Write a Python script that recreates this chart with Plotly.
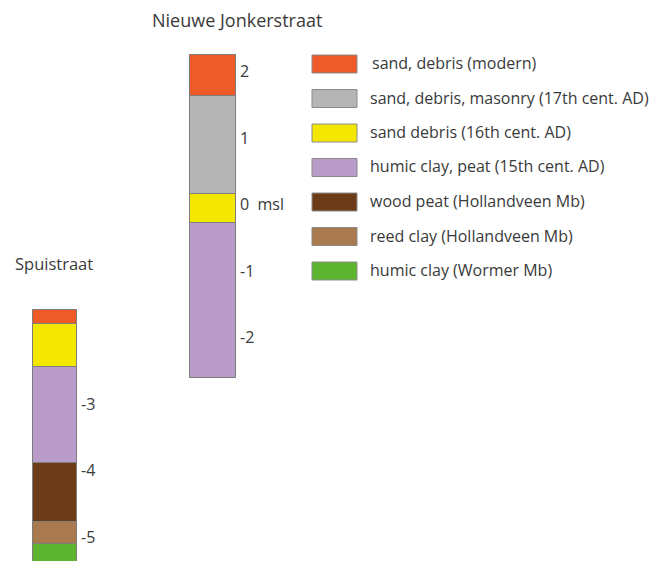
import plotly.graph_objects as go

# ---- data (metres relative to msl) ----
layer_names = [
    "sand, debris (modern)",
    "sand, debris, masonry (17th cent. AD)",
    "sand debris (16th cent. AD)",
    "humic clay, peat (15th cent. AD)",
    "wood peat (Hollandveen Mb)",
    "reed clay (Hollandveen Mb)",
    "humic clay (Wormer Mb)",
]
layer_colors = ["#EE5A28", "#B5B5B5", "#F3E700", "#B99CC9", "#6B3C17", "#A87A4E", "#5DB52F"]

# Nieuwe Jonkerstraat: layer index, top, bottom
nj_layers = [0, 1, 2, 3]
nj_top = [2.24, 1.62, 0.15, -0.29]
nj_bottom = [1.62, 0.15, -0.29, -2.62]
nj_ticks = [2, 1, 0, -1, -2]
nj_tick_text = ["2", "1", "0  msl", "-1", "-2"]

# Spuistraat
sp_layers = [0, 2, 3, 4, 5, 6]
sp_top = [-1.59, -1.81, -2.45, -3.89, -4.78, -5.11]
sp_bottom = [-1.81, -2.45, -3.89, -4.78, -5.11, -5.60]
sp_ticks = [-3, -4, -5]
sp_tick_text = ["-3", "-4", "-5"]

# ---- layout constants (pixel-like x units; page body has an 8px margin) ----
W, H = 664, 561
OFF = 8
Y_RANGE = [(204 - OFF - H) / 66.5, (204 - OFF) / 66.5]
NJ_X, NJ_W = 213 - OFF, 46
SP_X, SP_W = 55 - OFF, 44
TXT = "#3a3a3a"
FONT = "Open Sans"
FS = 16

fig = go.Figure()

def add_column(xc, width, layers, tops, bottoms):
    for li, t, b in zip(layers, tops, bottoms):
        fig.add_trace(go.Bar(
            x=[xc], y=[t - b], base=[b], width=[width],
            marker=dict(color=layer_colors[li], line=dict(color="#7d7d7d", width=1)),
            showlegend=False, hoverinfo="skip",
        ))

add_column(NJ_X, NJ_W, nj_layers, nj_top, nj_bottom)
add_column(SP_X, SP_W, sp_layers, sp_top, sp_bottom)

annotations = []
for v, t in zip(nj_ticks, nj_tick_text):
    annotations.append(dict(x=NJ_X + NJ_W / 2 + 2, y=v, xref="x", yref="y", text=t,
                            showarrow=False, xanchor="left", yanchor="middle",
                            font=dict(family=FONT, size=FS, color=TXT)))
for v, t in zip(sp_ticks, sp_tick_text):
    annotations.append(dict(x=SP_X + SP_W / 2 + 2, y=v, xref="x", yref="y", text=t,
                            showarrow=False, xanchor="left", yanchor="middle",
                            font=dict(family=FONT, size=FS, color=TXT)))

annotations.append(dict(x=150 - OFF, y=1 - (20 - OFF) / H, xref="x", yref="paper",
                        text="Nieuwe Jonkerstraat", showarrow=False, xanchor="left",
                        yanchor="middle", font=dict(family=FONT, size=18, color=TXT)))
annotations.append(dict(x=13 - OFF, y=1 - (263 - OFF) / H, xref="x", yref="paper",
                        text="Spuistraat", showarrow=False, xanchor="left",
                        yanchor="middle", font=dict(family=FONT, size=16.5, color=TXT)))

shapes = []
for i, (name, col) in enumerate(zip(layer_names, layer_colors)):
    y0 = 55 - OFF + i * 34.5
    shapes.append(dict(type="rect", xref="x", yref="paper",
                       x0=312 - OFF, x1=357 - OFF, y0=1 - (y0 + 18) / H, y1=1 - y0 / H,
                       fillcolor=col, line=dict(color="#8a8a8a", width=1)))
    annotations.append(dict(x=(370 if i else 372) - OFF - 2, y=1 - (y0 + 8) / H,
                            xref="x", yref="paper", text=name, showarrow=False,
                            xanchor="left", yanchor="middle",
                            font=dict(family=FONT, size=FS, color=TXT)))

fig.update_layout(
    width=W, height=H, margin=dict(l=0, r=0, t=0, b=0),
    paper_bgcolor="white", plot_bgcolor="white",
    barmode="overlay", bargap=0,
    xaxis=dict(range=[0, W], visible=False, fixedrange=True),
    yaxis=dict(range=Y_RANGE, visible=False, fixedrange=True),
    annotations=annotations, shapes=shapes,
    showlegend=False,
)

fig.write_html("out.html")
